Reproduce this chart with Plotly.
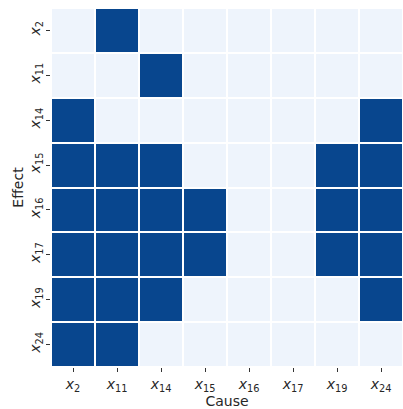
import plotly.graph_objects as go

variables = ["2", "11", "14", "15", "16", "17", "19", "24"]
tick_labels = [f"<i>x</i><sub>{v}</sub>" for v in variables]

# rows = effect, columns = cause
adjacency = [
    [0, 1, 0, 0, 0, 0, 0, 0],
    [0, 0, 1, 0, 0, 0, 0, 0],
    [1, 0, 0, 0, 0, 0, 0, 1],
    [1, 1, 1, 0, 0, 0, 1, 1],
    [1, 1, 1, 1, 0, 0, 1, 1],
    [1, 1, 1, 1, 0, 0, 1, 1],
    [1, 1, 1, 0, 0, 0, 0, 1],
    [1, 1, 0, 0, 0, 0, 0, 0],
]

light = "#eef4fc"
dark = "#08468e"

fig = go.Figure(
    go.Heatmap(
        z=adjacency,
        x=list(range(len(variables))),
        y=list(range(len(variables))),
        zmin=0,
        zmax=1,
        colorscale=[[0, light], [1, dark]],
        showscale=False,
        xgap=2,
        ygap=2,
        hoverinfo="skip",
    )
)

tick_font = dict(family="DejaVu Sans", size=14, color="#262626")
title_font = dict(family="DejaVu Sans", size=14, color="#262626")

fig.update_layout(
    width=403,
    height=409,
    margin=dict(l=51, r=0, t=8, b=42),
    plot_bgcolor="white",
    paper_bgcolor="white",
    font=title_font,
    xaxis=dict(
        tickmode="array",
        tickvals=list(range(len(variables))),
        ticktext=tick_labels,
        ticks="outside",
        ticklen=4,
        tickcolor="#333",
        showgrid=False,
        zeroline=False,
        showline=False,
        title=dict(text="Cause", font=title_font, standoff=0),
        tickfont=tick_font,
    ),
    yaxis=dict(
        tickmode="array",
        tickvals=list(range(len(variables))),
        ticktext=tick_labels,
        ticks="outside",
        ticklen=4,
        tickcolor="#333",
        tickangle=-90,
        autorange="reversed",
        showgrid=False,
        zeroline=False,
        showline=False,
        title=dict(text="Effect", font=title_font, standoff=0),
        tickfont=tick_font,
    ),
)

fig.write_html("out.html")
